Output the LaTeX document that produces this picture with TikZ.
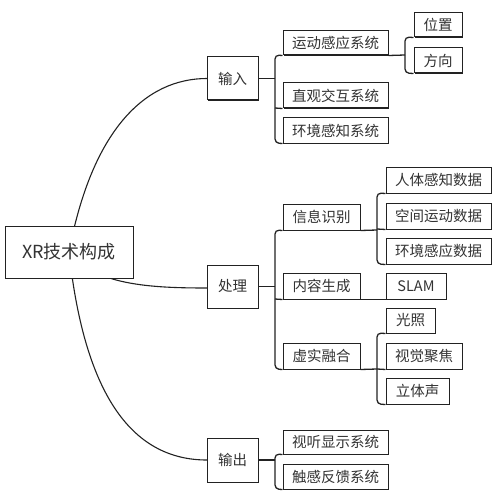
\documentclass[tikz,border=0pt]{standalone}
\usepackage{fontspec}
\setmainfont{Noto Sans CJK SC}
\usetikzlibrary{shadows}
\definecolor{ink}{HTML}{222222}
\definecolor{txt}{HTML}{333333}
\tikzset{
  box/.style={draw=ink, line width=1pt, fill=white, inner sep=0pt, text=txt,
    font=\fontsize{14.5}{16}\selectfont,
    drop shadow={shadow xshift=0.7pt, shadow yshift=-0.7pt, fill=ink, opacity=1}},
  rootbox/.style={box, font=\fontsize{18}{20}\selectfont},
  curve/.style={draw=ink, line width=1.1pt},
  branch/.style={draw=ink, line width=1.3pt, rounded corners=4pt},
}
\begin{document}
\begin{tikzpicture}[x=1pt,y=1pt]
\useasboundingbox (0,0) rectangle (500,-492);
% root curves (drawn first, box covers start)
\coordinate (rc) at (69,-252);
\draw[curve] (rc) .. controls (92,-130) and (145,-78.5) .. (207,-78.5);
\draw[curve] (rc) .. controls (95,-285) and (150,-288) .. (207,-288);
\draw[curve] (rc) .. controls (85,-400) and (135,-460) .. (207,-460);

\node[rootbox, minimum width=128, minimum height=52] (root) at (69,-252) {XR技术构成};

\node[box, minimum width=51, minimum height=43] (in) at (232.5,-78.5) {输入};
\node[box, minimum width=51, minimum height=43] (proc) at (232.5,-286.5) {处理};
\node[box, minimum width=51, minimum height=44] (out) at (232.5,-460) {输出};

\node[box, minimum width=105, minimum height=24] (motion) at (335.5,-43) {运动感应系统};
\node[box, minimum width=105, minimum height=25] (inter) at (335.5,-95.5) {直观交互系统};
\node[box, minimum width=105, minimum height=25] (envp) at (335.5,-130.5) {环境感知系统};

\node[box, minimum width=48, minimum height=24] (pos) at (438,-25) {位置};
\node[box, minimum width=48, minimum height=25] (dir) at (438,-60.5) {方向};

\node[box, minimum width=77, minimum height=26] (info) at (321.5,-217) {信息识别};
\node[box, minimum width=105, minimum height=26] (body) at (438.5,-180) {人体感知数据};
\node[box, minimum width=105, minimum height=26] (space) at (438.5,-216) {空间运动数据};
\node[box, minimum width=105, minimum height=26] (envd) at (438.5,-251) {环境感应数据};

\node[box, minimum width=77, minimum height=26] (gen) at (321.5,-286) {内容生成};
\node[box, minimum width=60, minimum height=26] (slam) at (416,-286) {SLAM};

\node[box, minimum width=77, minimum height=26] (fuse) at (321.5,-356) {虚实融合};
\node[box, minimum width=49, minimum height=25] (light) at (410.5,-320.5) {光照};
\node[box, minimum width=76, minimum height=26] (focus) at (424,-356) {视觉聚焦};
\node[box, minimum width=63, minimum height=26] (sound) at (417.5,-391) {立体声};

\node[box, minimum width=105, minimum height=24] (av) at (335.5,-442) {视听显示系统};
\node[box, minimum width=105, minimum height=25] (hap) at (335.5,-476.5) {触感反馈系统};

% input branches
\draw[branch] (in.east) -- (275,-78.5);
\draw[branch] (motion.south west) -- (275,-55) -- (275,-143) -- (envp.south west);
\draw[branch] (275,-108) -- (inter.south west);
\draw[branch] (motion.south east) -- (405,-55);
\draw[branch] (pos.south west) -- (405,-37) -- (405,-73) -- (dir.south west);

% processing branches
\draw[branch] (proc.east) -- (275,-286.5);
\draw[branch] (info.south west) -- (275,-230) -- (275,-369) -- (fuse.south west);
\draw[branch] (275,-299) -- (gen.south west);
\draw[branch] (info.south east) -- (377,-230);
\draw[branch] (body.south west) -- (377,-193) -- (377,-264) -- (envd.south west);
\draw[branch] (377,-229) -- (space.south west);
\draw[branch] (gen.south east) -- (slam.south west);
\draw[branch] (fuse.south east) -- (377,-369);
\draw[branch] (light.south west) -- (377,-333) -- (377,-404) -- (sound.south west);
\draw[branch] (377,-369) -- (focus.south west);

% output branches
\draw[branch] (out.east) -- (275,-460);
\draw[branch] (av.south west) -- (275,-454) -- (275,-489) -- (hap.south west);
\end{tikzpicture}
\end{document}
